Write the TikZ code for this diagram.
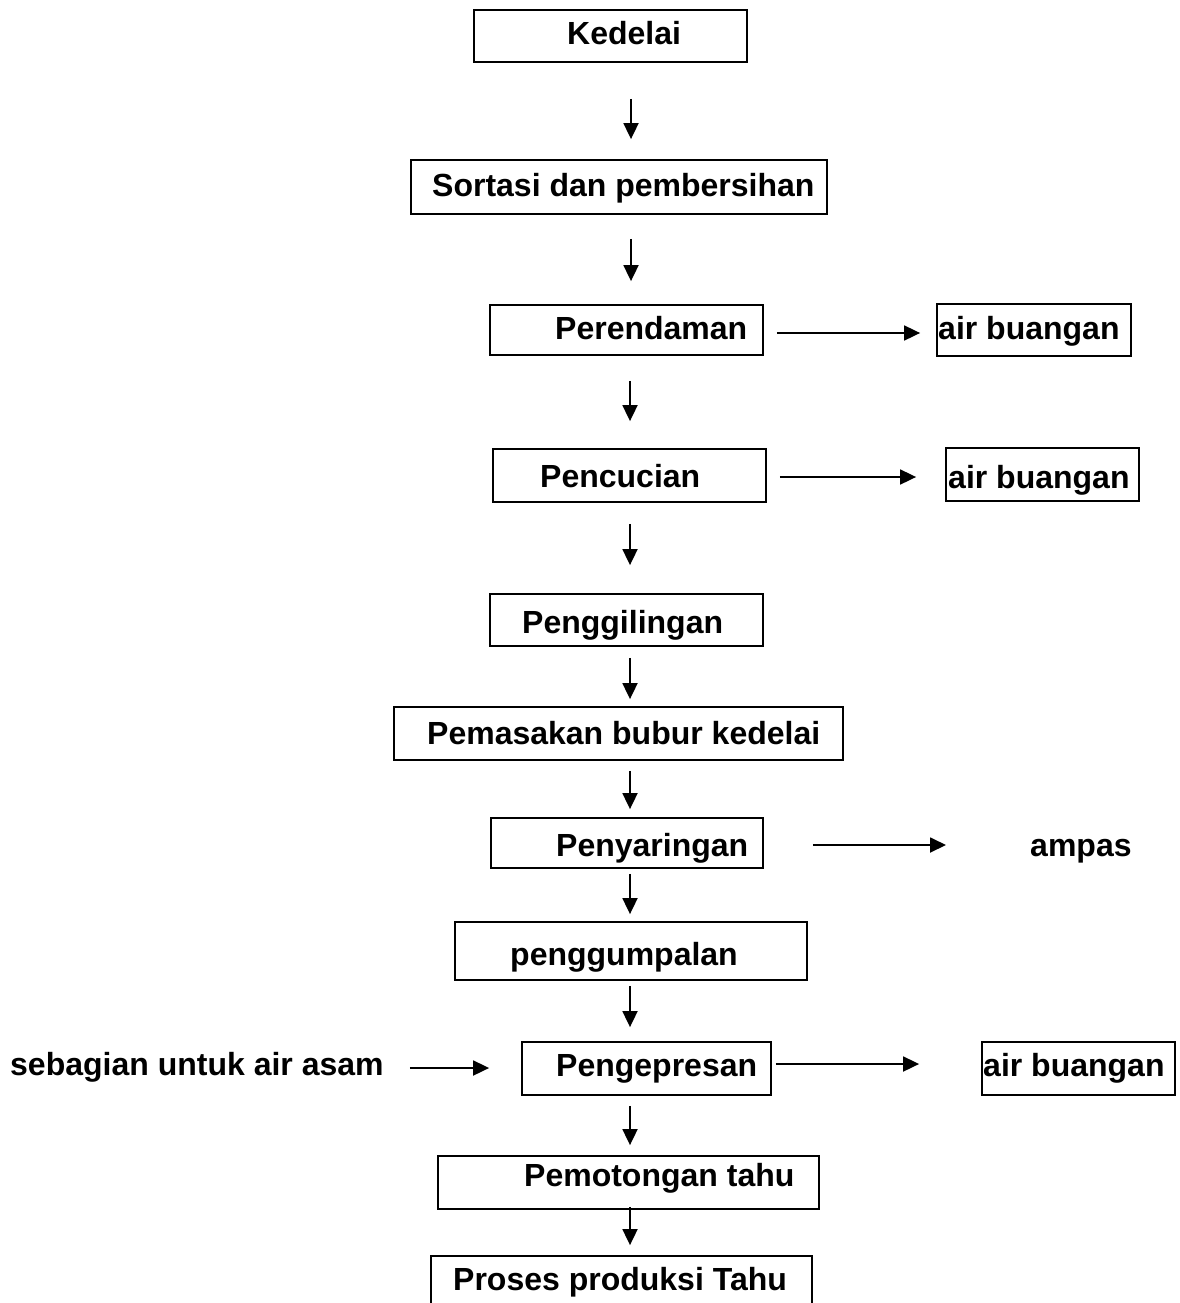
\documentclass[tikz,border=0pt]{standalone}
\usepackage{fontspec}
\setmainfont{Liberation Sans}
\usetikzlibrary{arrows.meta,calc}
\begin{document}
\begin{tikzpicture}[x=1pt,y=-1pt,
  box/.style={draw,line width=1.8pt,inner sep=0pt},
  lbl/.style={anchor=base west,inner sep=0pt,font=\fontsize{32}{38}\selectfont\bfseries},
  arr/.style={line width=1.8pt,-{Triangle[length=16pt,width=15pt]}}]
\useasboundingbox (0,0) rectangle (1179,1303);
\clip (0,0) rectangle (1179,1303);
% boxes
\node[box,minimum width=273,minimum height=52] (b1) at (610.5,36) {};
\node[box,minimum width=416,minimum height=54] (b2) at (619,187) {};
\node[box,minimum width=273,minimum height=50] (b3) at (626.5,330) {};
\node[box,minimum width=194,minimum height=52] (w1) at (1034,330) {};
\node[box,minimum width=273,minimum height=53] (b4) at (629.5,475.5) {};
\node[box,minimum width=193,minimum height=53] (w2) at (1042.5,474.5) {};
\node[box,minimum width=273,minimum height=52] (b5) at (626.5,620) {};
\node[box,minimum width=449,minimum height=53] (b6) at (618.5,733.5) {};
\node[box,minimum width=272,minimum height=50] (b7) at (627,843) {};
\node[box,minimum width=352,minimum height=58] (b8) at (631,951) {};
\node[box,minimum width=249,minimum height=53] (b9) at (646.5,1068.5) {};
\node[box,minimum width=193,minimum height=53] (w3) at (1078.5,1068.5) {};
\node[box,minimum width=381,minimum height=53] (b10) at (628.5,1182.5) {};
\node[box,minimum width=381,minimum height=70] (b11) at (621.5,1291) {};
% texts
\node[lbl] (t1) at (567,45) {Kedelai};
\node[lbl] (t2) at (432,196) {Sortasi dan pembersihan};
\node[lbl] (t3) at (555,339) {Perendaman};
\node[lbl] (tw1) at (938,339) {air buangan};
\node[lbl] (t4) at (540,487) {Pencucian};
\node[lbl] (tw2) at (948,488) {air buangan};
\node[lbl] (t5) at (522,633) {Penggilingan};
\node[lbl] (t6) at (427,744) {Pemasakan bubur kedelai};
\node[lbl] (t7) at (556,856) {Penyaringan};
\node[lbl] (amp) at (1030,856) {ampas};
\node[lbl] (t8) at (510,965) {penggumpalan};
\node[lbl] (t9) at (556,1076) {Pengepresan};
\node[lbl] (src) at (10,1075) {sebagian untuk air asam};
\node[lbl] (tw3) at (983,1076) {air buangan};
\node[lbl] (t10) at (524,1186) {Pemotongan tahu};
\node[lbl] (t11) at (453,1290) {Proses produksi Tahu};
% arrow guide coordinates
\coordinate (ax) at (630,0);
\coordinate (ax1) at (631,0);
\coordinate (h1) at (0,333);
\coordinate (h2) at (0,477);
\coordinate (h3) at (0,845);
\coordinate (h4) at (0,1068);
\coordinate (h5) at (0,1064);
% vertical arrows
\draw[arr,shorten <=36pt,shorten >=20pt] (b1.south -| ax1) -- (b2.north -| ax1);
\draw[arr,shorten <=24pt,shorten >=23pt] (b2.south -| ax1) -- (b3.north -| ax1);
\draw[arr,shorten <=25pt,shorten >=27pt] (b3.south -| ax) -- (b4.north -| ax);
\draw[arr,shorten <=21pt,shorten >=28pt] (b4.south -| ax) -- (b5.north -| ax);
\draw[arr,shorten <=11pt,shorten >=7pt] (b5.south -| ax) -- (b6.north -| ax);
\draw[arr,shorten <=10pt,shorten >=8pt] (b6.south -| ax) -- (b7.north -| ax);
\draw[arr,shorten <=5pt,shorten >=7pt] (b7.south -| ax) -- (b8.north -| ax);
\draw[arr,shorten <=5pt,shorten >=14pt] (b8.south -| ax) -- (b9.north -| ax);
\draw[arr,shorten <=10pt,shorten >=10pt] (b9.south -| ax) -- (b10.north -| ax);
\draw[arr,shorten <=-3pt,shorten >=10pt] (b10.south -| ax) -- (b11.north -| ax);
% horizontal arrows
\draw[arr,shorten <=13pt,shorten >=16pt] (b3.east |- h1) -- (w1.west |- h1);
\draw[arr,shorten <=13pt,shorten >=29pt] (b4.east |- h2) -- (w2.west |- h2);
\draw[arr,shorten <=49pt,shorten >=84pt] (b7.east |- h3) -- (amp.west |- h3);
\draw[arr,shorten <=26pt,shorten >=32pt] (src.east |- h4) -- (b9.west |- h4);
\draw[arr,shorten <=4pt,shorten >=62pt] (b9.east |- h5) -- (w3.west |- h5);
\end{tikzpicture}
\end{document}
